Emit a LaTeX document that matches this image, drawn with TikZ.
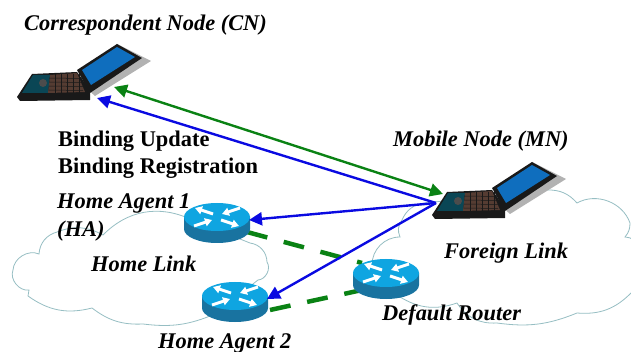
\documentclass[tikz,border=0pt]{standalone}
\usepackage{fontspec}
\setmainfont{Liberation Serif}
\usepackage{xcolor}
\usetikzlibrary{arrows.meta,positioning,calc}
\definecolor{cloudline}{RGB}{150,190,195}
\definecolor{arrowblue}{RGB}{10,10,225}
\definecolor{arrowgreen}{RGB}{10,130,20}
\definecolor{routertop}{RGB}{15,165,225}
\definecolor{routerside}{RGB}{25,115,160}
\definecolor{screenblue}{RGB}{15,110,190}
\definecolor{padteal}{RGB}{10,70,85}
\definecolor{keybrown}{RGB}{85,60,50}
\tikzset{
  laptop/.pic={
    \fill[black!30] (100,-53) -- (134,-36) -- (78,-1) -- (70,-8) -- cycle;
    \fill[black!90] (60,-27) -- (100,-53) -- (125,-39) -- (73,-4) -- cycle;
    \fill[screenblue] (65,-27) -- (100,-50) -- (118,-40) -- (74,-12) -- cycle;
    \fill[black!90] (0,0) -- (15,-23) -- (60,-25) -- (73,-7) -- (73,3) -- (3,4) -- cycle;
    \fill[padteal] (5,-4) -- (16,-22) -- (33,-22) -- (31,-4) -- cycle;
    \fill[keybrown] (33,-22) -- (60,-24) -- (68,-5) -- (31,-4) -- cycle;
    \fill[black!70] (26,-14) circle (4);
    \foreach \i in {-19,-15,-11,-7}
      \draw[black!90,line width=.5] (32,\i) -- (66,\i+.5);
    \foreach \i in {38,44,50,56,62}
      \draw[black!90,line width=.5] (\i,-23) -- (\i,-4);
  },
  router/.pic={
    \fill[routerside] (-33,0) -- (-33,12) arc[start angle=180,end angle=0,x radius=33,y radius=14] -- (33,0) -- cycle;
    \fill[routertop] (0,0) ellipse[x radius=33,y radius=14];
    \draw[routerarrow,-{Stealth[length=7,width=8,inset=0]}] (-4,-3) -- (-22,-9);
    \draw[routerarrow,{Stealth[length=7,width=8,inset=0]}-] (5,-3) -- (23,-9);
    \draw[routerarrow,{Stealth[length=7,width=8,inset=0]}-] (-5,3) -- (-23,9);
    \draw[routerarrow,-{Stealth[length=7,width=8,inset=0]}] (4,3) -- (22,9);
    \coordinate (-in) at (32,3);
  }
}
\tikzstyle{routerarrow}=[white,line width=3]
\tikzstyle{lbl}=[font=\fontsize{22.4}{28}\selectfont\bfseries\itshape,anchor=west,inner sep=0pt,align=left]
\tikzstyle{msg}=[font=\fontsize{22.4}{28}\selectfont\bfseries,anchor=west,inner sep=0pt]
\tikzstyle{cloud}=[draw=cloudline,line width=.8,fill=white]
\tikzstyle{sig}=[-{Stealth[length=13,width=13,inset=0]},line width=2.4]
\tikzstyle{tunnel}=[arrowgreen,line width=4.5,dash pattern=on 21pt off 17pt]
\begin{document}
\begin{tikzpicture}[x=1pt,y=-1pt]
  \clip (0,0) rectangle (631,352);
  % clouds
  \draw[cloud] (190,219) to[bend right=35] (103,235) to[bend right=25] (57,232)
     to[bend right=35] (39,254) to[bend right=55] (13,270) to[bend right=60] (29,290)
     to[bend right=15] (28,296) to[bend right=25] (92,308) to[bend right=20] (143,324)
     to[bend right=15] (215,314) -- (258,280) to[bend right=60] (267,262)
     to[bend right=40] (250,243) -- cycle;
  \draw[cloud] (547,190) to[bend left=25] (577,203) to[bend left=50] (630,223)
     to[bend left=20] (625,237) to[bend left=15] (634,240) to[bend left=70] (631,293)
     to[bend left=25] (577,313) to[bend left=15] (497,323) to[bend left=30] (457,303)
     to[bend left=25] (400,297) -- (372,265) to[bend left=45] (400,237)
     to[bend left=30] (402,220) to[bend left=30] (425,203) -- cycle;
  % tunnels
  \coordinate (dr-a) at (362,263);
  \coordinate (dr-b) at (362,290);
  \coordinate (ha1-g) at (247,232);
  \coordinate (ha2-g) at (270,310);
  \draw[tunnel] (ha1-g) -- (dr-a);
  \draw[tunnel] (ha2-g) -- (dr-b);
  % routers
  \pic (ha1) at (217,217) {router};
  \pic (ha2) at (235,296) {router};
  \pic (dr) at (386,273) {router};
  % laptops
  \pic (cn) at (17,97) {laptop};
  \pic (mn) at (432,215) {laptop};
  % signalling
  \coordinate (mn-out) at (436,203);
  \coordinate (mn-g) at (443,194);
  \coordinate (cn-g) at (114,87);
  \coordinate (cn-b) at (97,98);
  \draw[sig,arrowgreen,{Stealth[length=13,width=13,inset=0]}-{Stealth[length=13,width=13,inset=0]}] (cn-g) -- (mn-g);
  \draw[sig,arrowblue] (mn-out) -- (cn-b);
  \draw[sig,arrowblue] (mn-out) -- (ha1-in);
  \draw[sig,arrowblue] (mn-out) -- (ha2-in);
  % labels
  \node[lbl] (cnlabel) at (24,25) {Correspondent Node (CN)};
  \node[msg] (bulabel) at (58,141) {Binding Update};
  \node[msg] (brlabel) at (58,168) {Binding Registration};
  \node[lbl] (mnlabel) at (393,141) {Mobile Node (MN)};
  \node[lbl] (ha1label) at (57,217) {Home Agent 1\\(HA)};
  \node[lbl] (hllabel) at (91,264) {Home Link};
  \node[lbl] (fllabel) at (444,253) {Foreign Link};
  \node[lbl] (drlabel) at (382,315) {Default Router};
  \node[lbl] (ha2label) at (158,343) {Home Agent 2};
\end{tikzpicture}
\end{document}
